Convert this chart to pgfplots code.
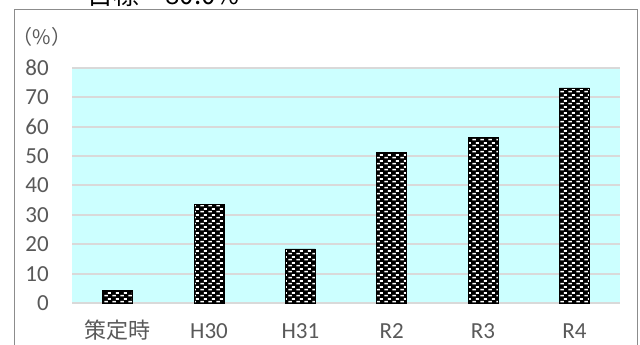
\documentclass[border=0pt]{standalone}
\usepackage{pgfplots}
\pgfplotsset{compat=1.18}
\usepackage{fontspec}
\setmainfont{Carlito}
\newfontfamily\cjk{Noto Sans CJK JP}
\usetikzlibrary{patterns}
\definecolor{bgcyan}{HTML}{CCFFFF}
\definecolor{gridgray}{HTML}{D9D9D9}
\definecolor{labgray}{HTML}{595959}
\definecolor{framegray}{HTML}{8C8C8C}
\pgfdeclarepatternformonly{whitebricks}{\pgfqpoint{0pt}{0pt}}{\pgfqpoint{8pt}{6pt}}{\pgfqpoint{8pt}{6pt}}{%
  \pgfpathrectangle{\pgfqpoint{0.3pt}{0.6pt}}{\pgfqpoint{4pt}{2pt}}%
  \pgfpathrectangle{\pgfqpoint{4.3pt}{3.6pt}}{\pgfqpoint{3.5pt}{2pt}}%
  \pgfusepath{fill}}
\pgfplotstableread{
x y
0 4.4
1 33.7
2 18.4
3 51.1
4 56.5
5 73.2
}\rates
\begin{document}
\begin{tikzpicture}[x=1pt,y=1pt]
\draw[framegray, line width=1pt] (14,-10) -- (14,335.5) -- (637,335.5) -- (637,-10);
\node[anchor=base west, inner sep=0pt, font=\cjk\fontsize{26}{30}\selectfont] at (87,340) {目標　80.0\%};
\node[anchor=center, inner sep=0pt, text=labgray, font=\cjk\fontsize{20}{24}\selectfont] at (42,308) {（\%）};
\begin{axis}[
  at={(72pt,42pt)}, anchor=south west,
  scale only axis, width=548pt, height=235pt,
  xmin=-0.5, xmax=5.5, ymin=0, ymax=80,
  ytick={0,10,...,80},
  xtick=data,
  xticklabels={{\cjk\fontsize{22}{26}\selectfont 策定時},H30,H31,R2,R3,R4},
  axis line style={draw=none},
  tick style={draw=none},
  axis background/.style={fill=bgcyan},
  ymajorgrids, major grid style={gridgray, line width=2pt},
  /pgf/number format/assume math mode=true,
  tick label style={text=labgray, font=\fontsize{23}{26}\selectfont},
  yticklabel style={anchor=east, inner sep=0pt, xshift=-23pt},
  xticklabel style={anchor=base, inner sep=0pt, yshift=-36pt},
  clip=false,
]
\addplot[ybar, bar width=30pt, fill=black, draw=black, line width=0.8pt,
  postaction={pattern=whitebricks, pattern color=white}] table[x=x,y=y] {\rates};
\end{axis}
\pgfresetboundingbox
\useasboundingbox (0,0) rectangle (640,345);
\end{tikzpicture}
\end{document}
